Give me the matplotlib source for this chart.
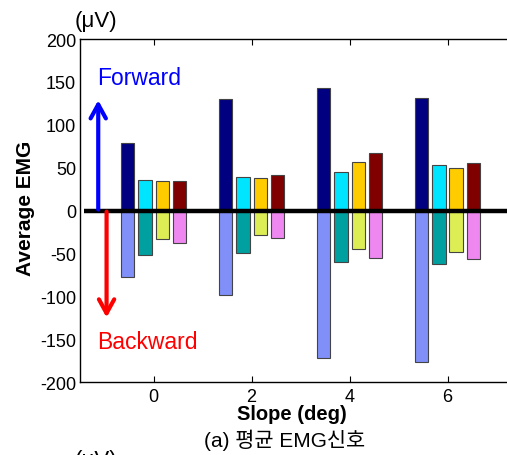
import matplotlib
matplotlib.use("Agg")
import matplotlib.pyplot as plt
import numpy as np

plt.rcParams['font.family'] = ['Liberation Sans', 'Noto Sans CJK KR', 'DejaVu Sans']
plt.rcParams['axes.unicode_minus'] = False

# slope (deg)
slopes = [0, 2, 4, 6]
# forward (positive) average EMG, four muscles
fwd_1 = [79, 130, 143, 131]
fwd_2 = [36, 39, 45, 53]
fwd_3 = [35, 38, 57, 50]
fwd_4 = [34, 41, 67, 56]
# backward (negative) average EMG
bwd_1 = [-78, -99, -172, -177]
bwd_2 = [-52, -50, -60, -62]
bwd_3 = [-33, -29, -45, -48]
bwd_4 = [-38, -32, -55, -57]

fwd_colors = ['#000080', '#00E5FF', '#FFCC00', '#800000']
bwd_colors = ['#8090F8', '#00A0A0', '#DDEE55', '#EE88F0']
offsets = [-0.53, -0.18, 0.18, 0.53]
width = 0.28

fig = plt.figure(figsize=(5.07, 4.56), dpi=100)
ax = fig.add_axes([0.158, 0.160, 0.86, 0.752])

x = np.array(slopes, dtype=float)
for vals, col, off in zip([fwd_1, fwd_2, fwd_3, fwd_4], fwd_colors, offsets):
    ax.bar(x + off, vals, width, color=col, edgecolor='#444444', linewidth=0.8, zorder=2)
for vals, col, off in zip([bwd_1, bwd_2, bwd_3, bwd_4], bwd_colors, offsets):
    ax.bar(x + off, vals, width, color=col, edgecolor='#444444', linewidth=0.8, zorder=2)

ax.plot([-1.42, 7.6], [0, 0], color='black', linewidth=3.2, zorder=3, solid_capstyle='butt')

ax.annotate('', xy=(-1.13, 132), xytext=(-1.13, -2),
            arrowprops=dict(arrowstyle='->,head_width=0.55,head_length=1.0', color='blue', lw=3),
            zorder=4)
ax.annotate('', xy=(-0.96, -128), xytext=(-0.96, 2),
            arrowprops=dict(arrowstyle='->,head_width=0.55,head_length=1.0', color='red', lw=3),
            zorder=4)
ax.text(-1.16, 155, 'Forward', color='blue', fontsize=16.5, va='center', ha='left')
ax.text(-1.16, -153, 'Backward', color='red', fontsize=16.5, va='center', ha='left')

ax.set_xlim(-1.5, 7.4)
ax.set_ylim(-200, 200)
ax.set_xticks(slopes)
ax.set_yticks(range(-200, 201, 50))
ax.tick_params(axis='x', direction='in', length=4, top=True, labelsize=13, pad=4)
ax.tick_params(axis='y', length=0, labelsize=13, pad=3)
ax.spines['right'].set_visible(False)
for s in ['left', 'top', 'bottom']:
    ax.spines[s].set_linewidth(1.0)

ax.set_ylabel('Average EMG', fontsize=15, fontweight='bold', va='center')
ax.yaxis.set_label_coords(-0.126, 0.51)
ax.set_xlabel('Slope (deg)', fontsize=14.5, fontweight='bold', va='center')
ax.xaxis.set_label_coords(0.486, -0.092)
fig.text(0.148, 0.953, '(\u03bcV)', fontsize=16, ha='left', va='center')
fig.text(0.562, 0.035, '(a) 평균 EMG신호', fontsize=15, ha='center', va='center')
fig.text(0.148, -0.01, '(\u03bcV)', fontsize=16, ha='left', va='center')

fig.savefig('out.png', dpi=100)
